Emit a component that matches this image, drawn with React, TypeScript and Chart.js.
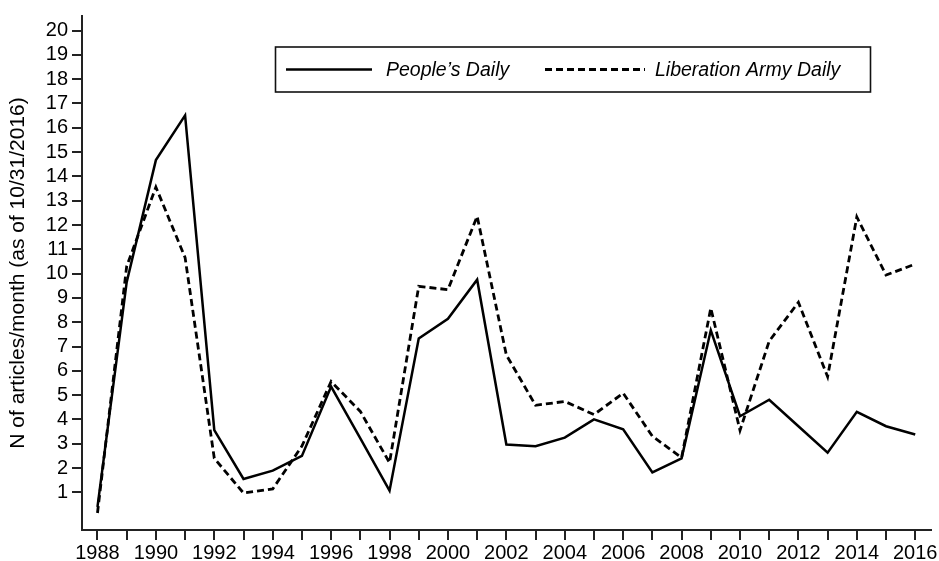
import React, { useEffect, useRef } from "react";
import { Chart, registerables } from "chart.js";

Chart.register(...registerables);

const years: number[] = [
  1988, 1989, 1990, 1991, 1992, 1993, 1994, 1995, 1996, 1997, 1998, 1999, 2000, 2001, 2002,
  2003, 2004, 2005, 2006, 2007, 2008, 2009, 2010, 2011, 2012, 2013, 2014, 2015, 2016,
];

const peoplesDaily: number[] = [
  0.4, 9.65, 14.67, 16.51, 3.56, 1.55, 1.89, 2.5, 5.35, 3.22, 1.07, 7.33, 8.14, 9.75, 2.97,
  2.9, 3.25, 4.0, 3.59, 1.82, 2.4, 7.67, 4.13, 4.81, 3.72, 2.63, 4.31, 3.72, 3.38,
];

const liberationArmyDaily: number[] = [
  0.15, 10.3, 13.56, 10.66, 2.4, 0.97, 1.14, 2.9, 5.56, 4.33, 2.22, 9.48, 9.34, 12.36, 6.65,
  4.58, 4.74, 4.2, 5.08, 3.31, 2.43, 8.58, 3.55, 7.22, 8.82, 5.76, 12.33, 9.94, 10.39,
];

const yTicks: number[] = [1, 2, 3, 4, 5, 6, 7, 8, 9, 10, 11, 12, 13, 14, 15, 16, 17, 18, 19, 20];
const seriesLabels: string[] = ["People\u2019s Daily", "Liberation Army Daily"];
const yTitle = "N of articles/month (as of 10/31/2016)";

const FONT = "'Liberation Sans', Arial, Helvetica, sans-serif";
const AXIS = "#222";

const legendBoxPlugin = {
  id: "legendBox",
  afterDraw(chart: any) {
    const ctx = chart.ctx as CanvasRenderingContext2D;
    const ds = chart.data.datasets;
    ctx.save();
    const bx = 275.5, by = 47, bw = 595, bh = 45;
    ctx.fillStyle = "#fff";
    ctx.fillRect(bx, by, bw, bh);
    ctx.strokeStyle = "#111";
    ctx.lineWidth = 1.6;
    ctx.strokeRect(bx, by, bw, bh);
    const cy = by + bh / 2;
    const items = [
      { x0: 286, x1: 372, tx: 386 },
      { x0: 545, x1: 645, tx: 655 },
    ];
    items.forEach((it, i) => {
      const d = ds[i];
      ctx.beginPath();
      ctx.setLineDash(d.borderDash || []);
      ctx.lineWidth = d.borderWidth;
      ctx.strokeStyle = d.borderColor;
      ctx.moveTo(it.x0, cy);
      ctx.lineTo(it.x1, cy);
      ctx.stroke();
      ctx.setLineDash([]);
      ctx.fillStyle = "#000";
      ctx.font = `italic 19.5px ${FONT}`;
      ctx.textBaseline = "middle";
      ctx.textAlign = "left";
      ctx.fillText(d.label, it.tx, cy + 1);
    });
    ctx.restore();
  },
};

export default function App() {
  const ref = useRef<HTMLCanvasElement | null>(null);
  useEffect(() => {
    if (!ref.current) return;
    const chart = new Chart(ref.current, {
      type: "line",
      data: {
        datasets: [
          {
            label: seriesLabels[0],
            data: years.map((y, i) => ({ x: y, y: peoplesDaily[i] })),
            borderColor: "#000",
            borderWidth: 2.5,
            pointRadius: 0,
            tension: 0,
            borderJoinStyle: "miter",
            fill: false,
          },
          {
            label: seriesLabels[1],
            data: years.map((y, i) => ({ x: y, y: liberationArmyDaily[i] })),
            borderColor: "#000",
            borderWidth: 2.8,
            borderDash: [7, 4],
            pointRadius: 0,
            tension: 0,
            borderJoinStyle: "miter",
            fill: false,
          },
        ],
      },
      options: {
        responsive: false,
        animation: false,
        events: [],
        layout: { padding: { top: 12, right: 8, left: 0, bottom: 0 } },
        plugins: {
          legend: { display: false },
          tooltip: { enabled: false },
        },
        scales: {
          x: {
            type: "linear",
            min: 1987.47,
            max: 2016.54,
            afterBuildTicks: (scale: any) => {
              scale.ticks = years.map((v) => ({ value: v }));
            },
            afterFit: (scale: any) => {
              scale.height = 31;
            },
            grid: {
              display: true,
              drawOnChartArea: false,
              drawTicks: true,
              tickLength: 10,
              color: AXIS,
              lineWidth: 2,
            },
            border: { display: true, color: AXIS, width: 2 },
            ticks: {
              autoSkip: false,
              maxRotation: 0,
              padding: 1,
              color: "#000",
              font: { family: FONT, size: 20 },
              callback: (v: any) => (Number(v) % 2 === 0 ? String(v) : ""),
            },
          },
          y: {
            type: "linear",
            min: -0.55,
            max: 20.6,
            afterBuildTicks: (scale: any) => {
              scale.ticks = yTicks.map((v) => ({ value: v }));
            },
            afterFit: (scale: any) => {
              scale.width = 82;
            },
            grid: {
              display: true,
              drawOnChartArea: false,
              drawTicks: true,
              tickLength: 10,
              color: AXIS,
              lineWidth: 2,
            },
            border: { display: true, color: AXIS, width: 2 },
            ticks: {
              padding: 4,
              color: "#000",
              font: { family: FONT, size: 20 },
              callback: (v: any) => String(v),
            },
            title: {
              display: true,
              text: yTitle,
              color: "#000",
              font: { family: FONT, size: 21 },
              padding: { top: 6, bottom: 0 },
            },
          },
        },
      },
      plugins: [legendBoxPlugin],
    } as any);
    return () => chart.destroy();
  }, []);
  return (
    <div style={{ position: "fixed", left: 0, top: 0, width: 939, height: 561, background: "#fff" }}>
      <canvas ref={ref} width={939} height={561} style={{ display: "block" }} />
    </div>
  );
}
